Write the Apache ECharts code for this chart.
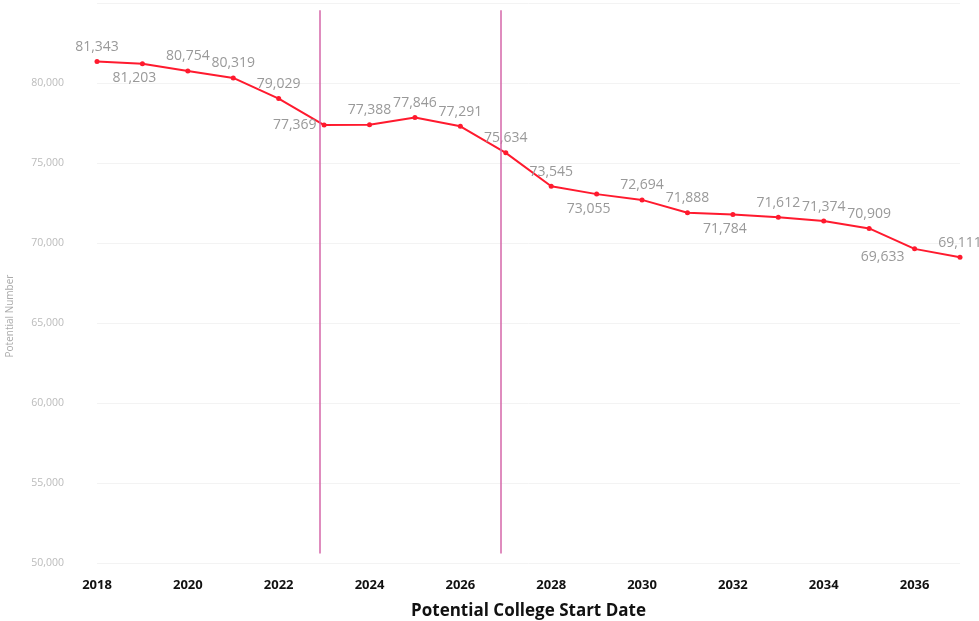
<!DOCTYPE html>
<html>
<head>
<meta charset="utf-8">
<script src="https://cdn.jsdelivr.net/npm/echarts@6/dist/echarts.min.js"></script>
<style>
  html, body { margin: 0; padding: 0; background: #fff; }
  #chart { width: 979px; height: 621px; }
</style>
</head>
<body>
<div id="chart"></div>
<script>
'use strict';
// potential college start year and potential number of students
const years = [2018, 2019, 2020, 2021, 2022, 2023, 2024, 2025, 2026, 2027,
  2028, 2029, 2030, 2031, 2032, 2033, 2034, 2035, 2036, 2037];
const students = [81343, 81203, 80754, 80319, 79029, 77369, 77388, 77846, 77291, 75634,
  73545, 73055, 72694, 71888, 71784, 71612, 71374, 70909, 69633, 69111];
// where each value label sits relative to its point
const labelSides = ['top', 'bottom', 'top', 'top', 'top', 'left', 'top', 'top', 'top', 'top',
  'top', 'bottom', 'top', 'top', 'bottom', 'top', 'top', 'top', 'bottom', 'top'];
// period markers (vertical lines)
const markers = [2022.9, 2026.9];
const markerSpan = [50600, 84550];

const font = '"Open Sans", "Noto Sans", sans-serif';

const points = years.map((y, i) => {
  const item = {value: [y, students[i]], label: {position: labelSides[i]}};
  if (y === 2036) {
    item.label.offset = [-32, -6];
  }
  if (y === 2019 || y === 2029 || y === 2032) {
    item.label.offset = [-8, 0];
  }
  return item;
});

const chart = echarts.init(document.getElementById('chart'));
chart.setOption({
  animation: false,
  textStyle: {fontFamily: font},
  grid: {left: 97, right: 19, top: 3, bottom: 58, outerBoundsMode: 'none'},
  xAxis: {
    type: 'value',
    min: 2018,
    max: 2037,
    interval: 2,
    name: 'Potential College Start Date',
    nameLocation: 'middle',
    nameGap: 40,
    nameTextStyle: {fontSize: 17, fontWeight: 'bold', color: '#111', fontFamily: font},
    axisLine: {show: false},
    axisTick: {show: false},
    splitLine: {show: false},
    axisLabel: {
      showMaxLabel: false,
      margin: 16,
      fontSize: 13,
      fontWeight: 'bold',
      color: '#111',
      fontFamily: font,
      formatter: (v) => String(v)
    }
  },
  yAxis: {
    type: 'value',
    min: 50000,
    max: 85000,
    interval: 5000,
    name: 'Potential Number',
    nameLocation: 'middle',
    nameGap: 82,
    nameRotate: 90,
    nameTextStyle: {fontSize: 10, color: '#aaa', fontFamily: font, padding: [0, 66, 0, 0]},
    axisLine: {show: false},
    axisTick: {show: false},
    splitLine: {lineStyle: {color: '#f3f3f3', width: 1}},
    axisLabel: {
      showMaxLabel: false,
      margin: 33,
      fontSize: 10.5,
      color: '#bbb',
      fontFamily: font,
      formatter: (v) => v.toLocaleString('en-US')
    }
  },
  series: [{
    type: 'line',
    data: points,
    symbol: 'circle',
    symbolSize: 5,
    lineStyle: {color: '#ff1a2e', width: 2},
    itemStyle: {color: '#ff1a2e'},
    label: {
      show: true,
      fontSize: 14,
      color: '#999',
      fontFamily: font,
      distance: 5,
      formatter: (p) => p.value[1].toLocaleString('en-US')
    },
    markLine: {
      silent: true,
      symbol: 'none',
      label: {show: false},
      lineStyle: {color: '#d566a8', width: 1.5, type: 'solid'},
      data: markers.map((m) => [
        {coord: [m, markerSpan[0]]},
        {coord: [m, markerSpan[1]]}
      ])
    }
  }]
});
</script>
</body>
</html>
